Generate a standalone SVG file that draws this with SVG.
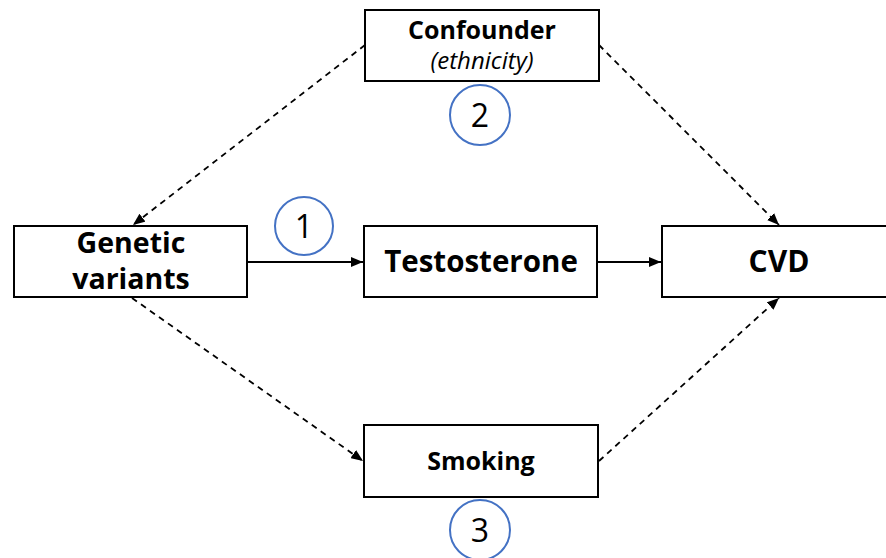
<svg xmlns="http://www.w3.org/2000/svg" width="886" height="558" viewBox="0 0 886 558">
<defs>
<marker id="ah" viewBox="0 0 12 10" refX="12" refY="5" markerWidth="12" markerHeight="10" markerUnits="userSpaceOnUse" orient="auto">
<path d="M0,0 L12,5 L0,10 z" fill="#000"/>
</marker>
<style>
.box{fill:#fff;stroke:#000;stroke-width:2}
.t{font-family:"Open Sans","DejaVu Sans",sans-serif;font-weight:bold;fill:#000;text-anchor:middle}
.i{font-family:"Open Sans","DejaVu Sans",sans-serif;font-style:italic;fill:#000;text-anchor:middle}
.c{fill:none;stroke:#4472C4;stroke-width:2}
.n{font-family:"Open Sans","DejaVu Sans",sans-serif;fill:#000;text-anchor:middle;font-size:32px}
.s{stroke:#000;stroke-width:1.8;fill:none}
.d{stroke:#000;stroke-width:1.8;fill:none;stroke-dasharray:6 5}
</style>
</defs>
<rect width="886" height="558" fill="#fff"/>
<g id="connectors">
<line class="s" x1="248" y1="262" x2="363" y2="262" marker-end="url(#ah)"/>
<line class="s" x1="598" y1="262" x2="661" y2="262" marker-end="url(#ah)"/>
<line class="d" x1="365" y1="45" x2="133" y2="225" marker-end="url(#ah)"/>
<line class="d" x1="599" y1="45" x2="779" y2="225" marker-end="url(#ah)"/>
<line class="d" x1="132" y1="298" x2="363" y2="461" marker-end="url(#ah)"/>
<line class="d" x1="599" y1="461" x2="779" y2="298" marker-end="url(#ah)"/>
</g>
<g id="confounder">
<rect class="box" x="365" y="10" width="234" height="71"/>
<text class="t" x="482" y="39" font-size="25">Confounder</text>
<text class="i" x="482" y="69" font-size="24">(ethnicity)</text>
</g>
<g id="genetic">
<rect class="box" x="14" y="226" width="233" height="71"/>
<text class="t" x="131" y="253" font-size="28.5">Genetic</text>
<text class="t" x="131" y="289" font-size="28.5">variants</text>
</g>
<g id="testosterone">
<rect class="box" x="364" y="226" width="233" height="71"/>
<text class="t" x="481" y="272" font-size="29.5">Testosterone</text>
</g>
<g id="cvd">
<rect class="box" x="662" y="226" width="236" height="71"/>
<text class="t" x="779" y="272" font-size="30">CVD</text>
</g>
<g id="smoking">
<rect class="box" x="364" y="425" width="234" height="72"/>
<text class="t" x="481" y="470" font-size="25">Smoking</text>
</g>
<g id="label1">
<circle class="c" cx="304" cy="226" r="29"/>
<text class="n" x="304" y="238">1</text>
</g>
<g id="label2">
<circle class="c" cx="480" cy="115" r="30"/>
<text class="n" x="480" y="127">2</text>
</g>
<g id="label3">
<circle class="c" cx="480" cy="530" r="30"/>
<text class="n" x="480" y="542">3</text>
</g>
</svg>
